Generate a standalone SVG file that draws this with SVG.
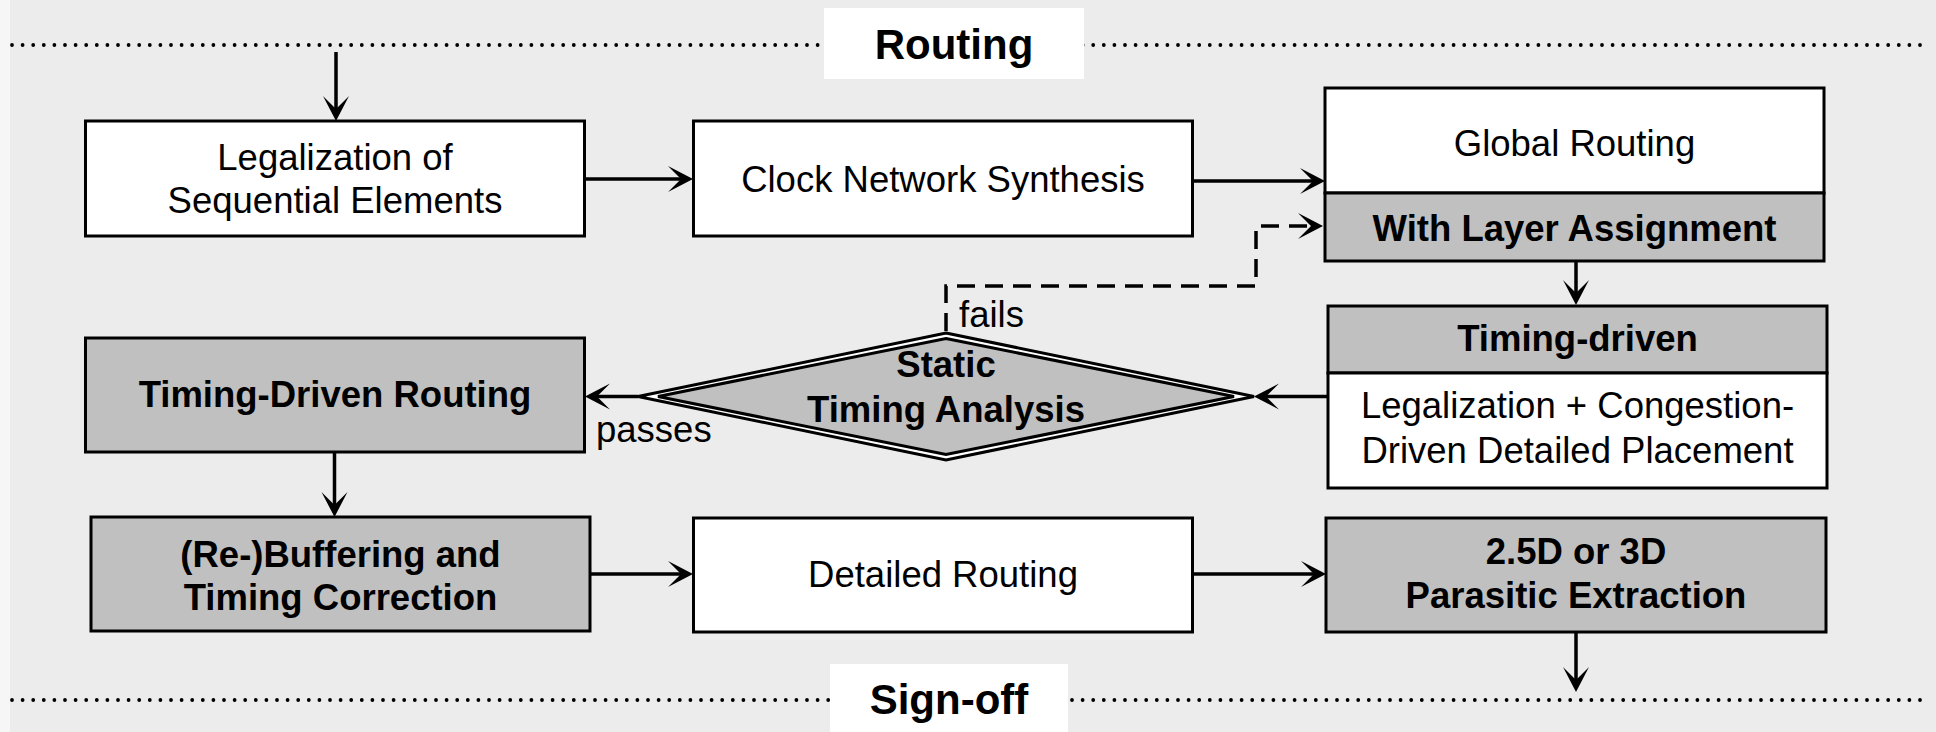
<svg xmlns="http://www.w3.org/2000/svg" width="1936" height="732" viewBox="0 0 1936 732">
<style>
.box{stroke:#000;stroke-width:3}
.w{fill:#fff}
.g{fill:#c0c0c0}
.t{font-family:"Liberation Sans",Arial,Helvetica,sans-serif;font-size:36.5px;fill:#000;text-anchor:middle}
.b{font-weight:bold}
.lab{font-family:"Liberation Sans",Arial,Helvetica,sans-serif;font-size:42px;font-weight:bold;fill:#000;text-anchor:middle}
.lbl{font-family:"Liberation Sans",Arial,Helvetica,sans-serif;font-size:36.5px;fill:#000}
.dots{fill:none;stroke:#000;stroke-width:3.8;stroke-linecap:round;stroke-dasharray:0 10.6}
.c{fill:none;stroke:#000;stroke-width:3.5;marker-end:url(#arr)}
.d{stroke-dasharray:18 10}
</style>
<defs>
<marker id="arr" markerUnits="userSpaceOnUse" viewBox="-28 -15 30 30" refX="-10" refY="0" markerWidth="30" markerHeight="30" orient="auto">
<path d="M0,0 L-25,-13 L-12,0 L-25,13 Z" fill="#000"/>
</marker>
</defs>
<rect x="0" y="0" width="1936" height="732" fill="#f6f6f6"/>
<rect x="10" y="0" width="1926" height="732" fill="#ececec"/>
<g id="separators">
<path class="dots" d="M12,45 H1930"/>
<path class="dots" d="M12,700 H1930"/>
</g>
<g id="routing-label">
<rect x="824" y="8" width="260" height="71" fill="#fff"/>
<text class="lab" x="954" y="59">Routing</text>
</g>
<g id="signoff-label">
<rect x="830" y="664" width="238" height="68" fill="#fff"/>
<text class="lab" x="949" y="714">Sign-off</text>
</g>
<g id="connectors">
<path class="c" d="M336,52 V111"/>
<path class="c" d="M585,179 H683"/>
<path class="c" d="M1192,181 H1315"/>
<path class="c d" d="M946,331 V286 H1256 V226 H1313"/>
<path class="c" d="M1576,261 V295"/>
<path class="c" d="M1328,396.5 H1264"/>
<path class="c" d="M638,396.5 H595"/>
<path class="c" d="M334.5,452 V507"/>
<path class="c" d="M590,574 H683"/>
<path class="c" d="M1193,574 H1316"/>
<path class="c" d="M1576,632 V682"/>
<text class="lbl" x="959" y="327">fails</text>
<text class="lbl" x="596" y="442">passes</text>
</g>
<g id="legalization-seq">
<rect class="box w" x="85.5" y="121" width="499" height="115"/>
<text class="t" x="335" y="170">Legalization of</text>
<text class="t" x="335" y="213">Sequential Elements</text>
</g>
<g id="clock-network">
<rect class="box w" x="693.5" y="121" width="499" height="115"/>
<text class="t" x="943" y="192">Clock Network Synthesis</text>
</g>
<g id="global-routing">
<rect class="box w" x="1325" y="88" width="499" height="105"/>
<rect class="box g" x="1325" y="193" width="499" height="68"/>
<text class="t" x="1574.5" y="156">Global Routing</text>
<text class="t b" x="1574.5" y="241">With Layer Assignment</text>
</g>
<g id="timing-driven-placement">
<rect class="box g" x="1328" y="306" width="499" height="67"/>
<rect class="box w" x="1328" y="373" width="499" height="115"/>
<text class="t b" x="1577.5" y="351">Timing-driven</text>
<text class="t" x="1577.5" y="418">Legalization + Congestion-</text>
<text class="t" x="1577.5" y="463">Driven Detailed Placement</text>
</g>
<g id="sta">
<polygon points="946,333 1254,396.5 946,460 638,396.5" fill="#fff" stroke="#000" stroke-width="3"/>
<polygon points="946,338.5 1234,396.5 946,454.5 658,396.5" fill="#c0c0c0" stroke="#000" stroke-width="3"/>
<text class="t b" x="946" y="377">Static</text>
<text class="t b" x="946" y="422">Timing Analysis</text>
</g>
<g id="timing-driven-routing">
<rect class="box g" x="85.5" y="338" width="499" height="114"/>
<text class="t b" x="335" y="407">Timing-Driven Routing</text>
</g>
<g id="rebuffering">
<rect class="box g" x="91" y="517" width="499" height="114"/>
<text class="t b" x="340.5" y="567">(Re-)Buffering and</text>
<text class="t b" x="340.5" y="610">Timing Correction</text>
</g>
<g id="detailed-routing">
<rect class="box w" x="693.5" y="518" width="499" height="114"/>
<text class="t" x="943" y="587">Detailed Routing</text>
</g>
<g id="parasitic-extraction">
<rect class="box g" x="1326" y="518" width="500" height="114"/>
<text class="t b" x="1576" y="564">2.5D or 3D</text>
<text class="t b" x="1576" y="608">Parasitic Extraction</text>
</g>
</svg>
